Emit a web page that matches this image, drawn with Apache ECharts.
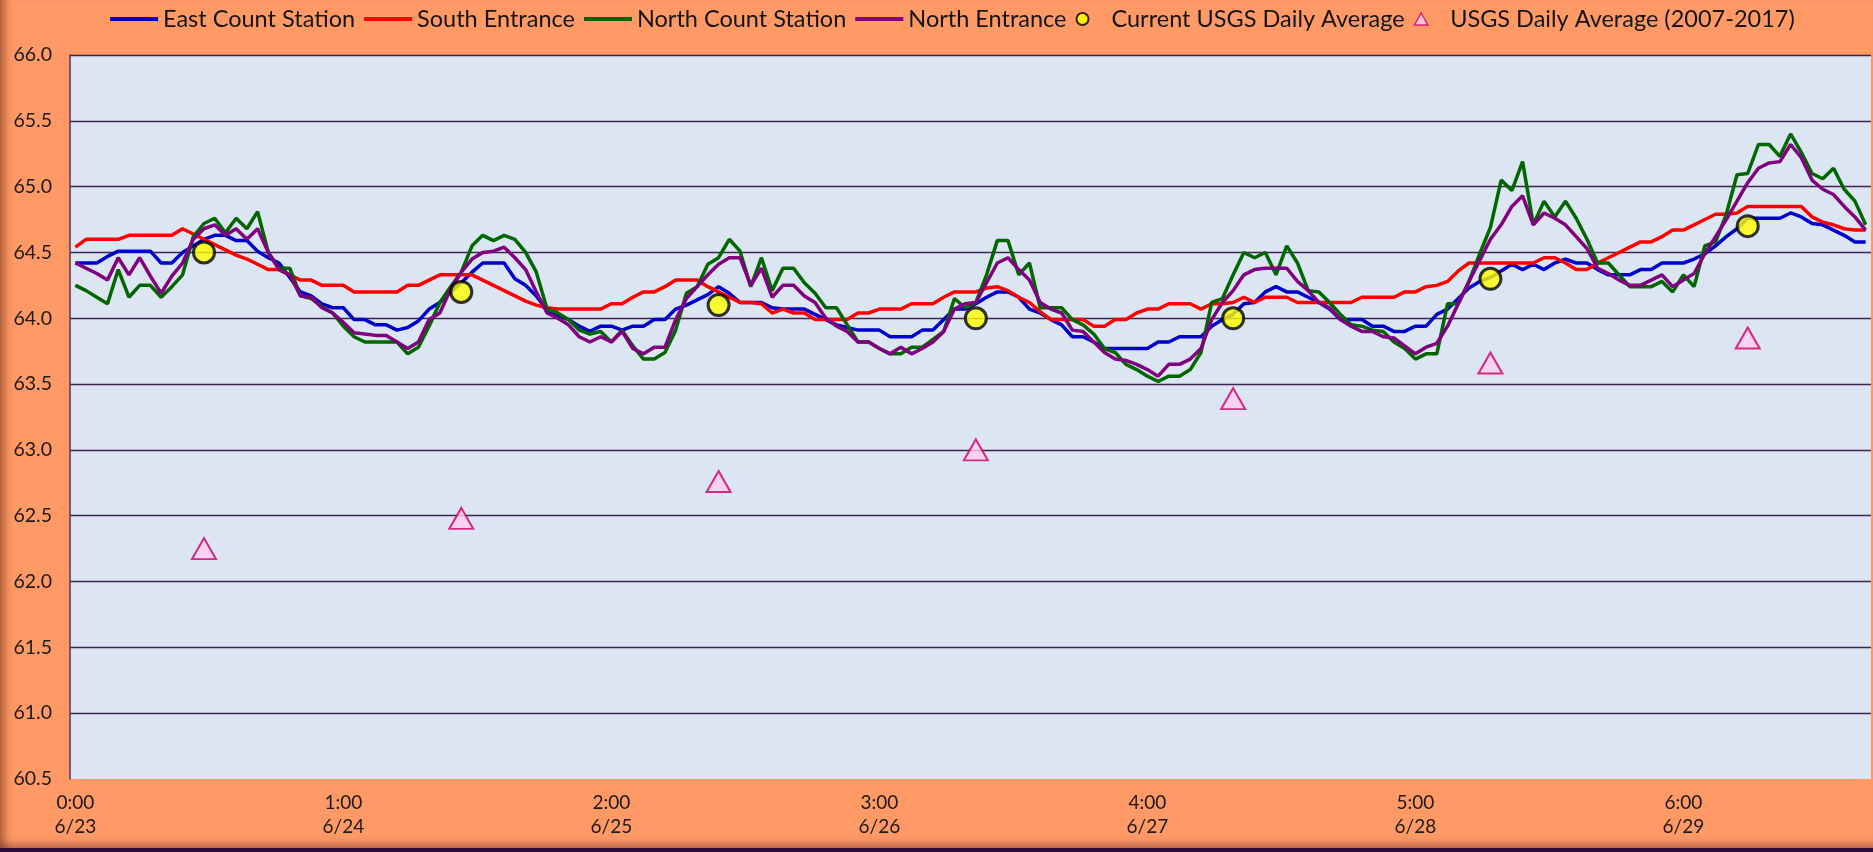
<!DOCTYPE html>
<html>
<head>
<meta charset="utf-8">
<title>Water temperature by station</title>
<script src="https://cdn.jsdelivr.net/npm/echarts@6/dist/echarts.min.js"></script>
<style>
  html, body { margin: 0; padding: 0; }
  #wrap {
    position: relative;
    width: 1873px;
    height: 852px;
    background: #ff9966;
    box-shadow: inset 12px 0 10px -8px rgba(90, 35, 10, 0.55),
                inset 0 -14px 10px -8px rgba(70, 20, 40, 0.55);
  }
  #wrap::after {
    content: '';
    position: absolute;
    left: 0; right: 0; bottom: 0;
    height: 4px;
    background: #2c0b3a;
  }
  #chart { position: absolute; left: 0; top: 0; width: 1873px; height: 852px; }
</style>
</head>
<body>
<div id="wrap"><div id="chart"></div></div>
<script>
// days shown, one reading per hour
const days = ['6/23', '6/24', '6/25', '6/26', '6/27', '6/28', '6/29']

// hourly temperatures
const eastCount = [
  64.42, 64.42, 64.42, 64.47, 64.51, 64.51, 64.51, 64.51, 64.42, 64.42,
  64.50, 64.55, 64.60, 64.63, 64.63, 64.59, 64.59, 64.51, 64.46, 64.42,
  64.31, 64.20, 64.17, 64.11, 64.08, 64.08, 63.99, 63.99, 63.95, 63.95,
  63.91, 63.93, 63.98, 64.07, 64.12, 64.20, 64.27, 64.35, 64.42, 64.42,
  64.42, 64.30, 64.25, 64.17, 64.06, 64.02, 63.99, 63.94, 63.90, 63.94,
  63.94, 63.91, 63.94, 63.94, 63.99, 63.99, 64.07, 64.10, 64.14, 64.18,
  64.24, 64.19, 64.12, 64.12, 64.12, 64.08, 64.07, 64.07, 64.07, 64.03,
  63.99, 63.95, 63.93, 63.91, 63.91, 63.91, 63.86, 63.86, 63.86, 63.91,
  63.91, 63.99, 64.07, 64.07, 64.11, 64.16, 64.20, 64.20, 64.16, 64.07,
  64.04, 63.99, 63.95, 63.86, 63.86, 63.82, 63.77, 63.77, 63.77, 63.77,
  63.77, 63.82, 63.82, 63.86, 63.86, 63.86, 63.94, 63.99, 64.03, 64.11,
  64.12, 64.20, 64.24, 64.20, 64.20, 64.16, 64.12, 64.07, 63.99, 63.99,
  63.99, 63.94, 63.94, 63.90, 63.90, 63.94, 63.94, 64.03, 64.07, 64.15,
  64.23, 64.28, 64.31, 64.36, 64.41, 64.37, 64.41, 64.37, 64.42, 64.45,
  64.42, 64.42, 64.37, 64.33, 64.33, 64.33, 64.37, 64.37, 64.42, 64.42,
  64.42, 64.45, 64.49, 64.55, 64.62, 64.68, 64.76, 64.76, 64.76, 64.76,
  64.80, 64.77, 64.72, 64.71, 64.67, 64.63, 64.58, 64.58
]

const southEntrance = [
  64.54, 64.60, 64.60, 64.60, 64.60, 64.63, 64.63, 64.63, 64.63, 64.63,
  64.68, 64.64, 64.60, 64.56, 64.52, 64.48, 64.45, 64.41, 64.37, 64.37,
  64.33, 64.29, 64.29, 64.25, 64.25, 64.25, 64.20, 64.20, 64.20, 64.20,
  64.20, 64.25, 64.25, 64.29, 64.33, 64.33, 64.33, 64.33, 64.29, 64.25,
  64.21, 64.17, 64.13, 64.10, 64.08, 64.07, 64.07, 64.07, 64.07, 64.07,
  64.11, 64.11, 64.16, 64.20, 64.20, 64.24, 64.29, 64.29, 64.29, 64.24,
  64.20, 64.16, 64.12, 64.12, 64.11, 64.04, 64.07, 64.04, 64.04, 63.99,
  63.99, 63.99, 63.99, 64.04, 64.04, 64.07, 64.07, 64.07, 64.11, 64.11,
  64.11, 64.16, 64.20, 64.20, 64.20, 64.23, 64.24, 64.21, 64.16, 64.12,
  64.05, 63.99, 63.99, 63.99, 63.99, 63.94, 63.94, 63.99, 63.99, 64.04,
  64.07, 64.07, 64.11, 64.11, 64.11, 64.07, 64.11, 64.11, 64.12, 64.16,
  64.12, 64.16, 64.16, 64.16, 64.12, 64.12, 64.12, 64.12, 64.12, 64.12,
  64.16, 64.16, 64.16, 64.16, 64.20, 64.20, 64.24, 64.25, 64.28, 64.36,
  64.42, 64.42, 64.42, 64.42, 64.42, 64.42, 64.42, 64.46, 64.46, 64.42,
  64.37, 64.37, 64.42, 64.46, 64.50, 64.54, 64.58, 64.58, 64.62, 64.67,
  64.67, 64.71, 64.75, 64.79, 64.79, 64.80, 64.85, 64.85, 64.85, 64.85,
  64.85, 64.85, 64.77, 64.73, 64.71, 64.68, 64.67, 64.67
]

const northCount = [
  64.25, 64.21, 64.16, 64.11, 64.37, 64.16, 64.25, 64.25, 64.16, 64.24,
  64.33, 64.62, 64.72, 64.76, 64.65, 64.76, 64.68, 64.81, 64.50, 64.38,
  64.38, 64.17, 64.15, 64.09, 64.04, 63.94, 63.86, 63.82, 63.82, 63.82,
  63.82, 63.73, 63.78, 63.94, 64.12, 64.24, 64.35, 64.55, 64.63, 64.59,
  64.63, 64.60, 64.50, 64.35, 64.07, 64.04, 63.99, 63.91, 63.88, 63.90,
  63.82, 63.91, 63.79, 63.69, 63.69, 63.74, 63.91, 64.19, 64.24, 64.41,
  64.46, 64.60, 64.51, 64.24, 64.46, 64.21, 64.38, 64.38, 64.27, 64.19,
  64.08, 64.08, 63.95, 63.82, 63.82, 63.77, 63.73, 63.73, 63.78, 63.78,
  63.84, 63.90, 64.15, 64.08, 64.12, 64.33, 64.59, 64.59, 64.33, 64.42,
  64.08, 64.08, 64.08, 63.99, 63.95, 63.88, 63.77, 63.74, 63.65, 63.61,
  63.56, 63.52, 63.56, 63.56, 63.61, 63.74, 64.12, 64.15, 64.33, 64.50,
  64.46, 64.50, 64.33, 64.55, 64.42, 64.21, 64.20, 64.12, 64.03, 63.95,
  63.94, 63.91, 63.90, 63.82, 63.77, 63.69, 63.73, 63.73, 64.11, 64.11,
  64.28, 64.49, 64.69, 65.05, 64.97, 65.19, 64.71, 64.89, 64.77, 64.89,
  64.76, 64.60, 64.42, 64.42, 64.33, 64.24, 64.24, 64.24, 64.28, 64.20,
  64.33, 64.24, 64.55, 64.58, 64.79, 65.09, 65.10, 65.32, 65.32, 65.23,
  65.40, 65.26, 65.10, 65.06, 65.14, 64.98, 64.89, 64.71
]

const northEntrance = [
  64.42, 64.38, 64.34, 64.29, 64.46, 64.33, 64.46, 64.32, 64.19, 64.32,
  64.42, 64.60, 64.68, 64.71, 64.63, 64.68, 64.60, 64.68, 64.50, 64.37,
  64.33, 64.17, 64.16, 64.08, 64.04, 63.97, 63.89, 63.88, 63.87, 63.87,
  63.82, 63.77, 63.82, 63.99, 64.04, 64.22, 64.35, 64.45, 64.50, 64.51,
  64.54, 64.46, 64.37, 64.20, 64.04, 64.00, 63.95, 63.86, 63.82, 63.86,
  63.82, 63.90, 63.77, 63.73, 63.78, 63.78, 63.99, 64.15, 64.24, 64.33,
  64.41, 64.46, 64.46, 64.25, 64.38, 64.16, 64.25, 64.25, 64.17, 64.12,
  64.00, 63.94, 63.90, 63.82, 63.82, 63.77, 63.73, 63.78, 63.73, 63.77,
  63.82, 63.90, 64.07, 64.11, 64.12, 64.27, 64.42, 64.46, 64.37, 64.29,
  64.12, 64.07, 64.04, 63.91, 63.90, 63.82, 63.74, 63.69, 63.68, 63.65,
  63.61, 63.56, 63.65, 63.65, 63.69, 63.77, 63.99, 64.12, 64.21, 64.33,
  64.37, 64.38, 64.38, 64.38, 64.28, 64.21, 64.12, 64.08, 63.99, 63.94,
  63.90, 63.90, 63.86, 63.85, 63.79, 63.73, 63.78, 63.81, 63.94, 64.11,
  64.28, 64.44, 64.60, 64.71, 64.85, 64.93, 64.71, 64.80, 64.76, 64.71,
  64.62, 64.53, 64.38, 64.34, 64.29, 64.25, 64.25, 64.29, 64.33, 64.24,
  64.29, 64.34, 64.49, 64.62, 64.75, 64.89, 65.03, 65.14, 65.18, 65.19,
  65.32, 65.22, 65.05, 64.98, 64.94, 64.85, 64.77, 64.67
]

// daily averages, plotted at noon of each day
const usgsTimes = ['6/23 12:00', '6/24 12:00', '6/25 12:00', '6/26 12:00', '6/27 12:00', '6/28 12:00', '6/29 12:00']
const usgsCurrent = [64.5, 64.2, 64.1, 64.0, 64.0, 64.3, 64.7]
const usgsHistoric = [62.25, 62.48, 62.76, 63.0, 63.39, 63.66, 63.85]

// one category per hour: "6/23 0:00" ... "6/29 23:00"
const hours = []
days.forEach(d => {
  for (let h = 0; h < 24; h++) hours.push(d + ' ' + h + ':00')
})

const font = 'Lato, "Open Sans", sans-serif'
const gridColor = '#3f2350'
// plain bar for the line entries of the legend (no dot in the middle)
const lineIcon = 'path://M0,0L48,0L48,4L0,4Z'

const lineSeries = (name, data, color) => ({
  name,
  type: 'line',
  data,
  symbol: 'none',
  lineStyle: { color, width: 3.5 },
  itemStyle: { color },
  z: 2
})

const chart = echarts.init(document.getElementById('chart'))

chart.setOption({
  animation: false,
  backgroundColor: 'transparent',
  legend: {
    left: 105,
    top: 2,
    itemWidth: 48,
    itemHeight: 12,
    itemGap: 9,
    textStyle: { fontFamily: font, fontSize: 23.5, color: '#141414' },
    data: [
      { name: 'East Count Station', icon: lineIcon },
      { name: 'South Entrance', icon: lineIcon },
      { name: 'North Count Station', icon: lineIcon },
      { name: 'North Entrance', icon: lineIcon },
      { name: 'Current USGS Daily Average', icon: 'circle', itemStyle: { borderWidth: 2 } },
      { name: 'USGS Daily Average (2007-2017)', icon: 'path://M5,0L10,9L0,9Z', itemStyle: { borderWidth: 1.5 } }
    ]
  },
  grid: {
    left: 70,
    right: 2,
    top: 55,
    bottom: 73,
    show: true,
    backgroundColor: '#dce6f2',
    borderWidth: 0
  },
  xAxis: {
    type: 'category',
    data: hours,
    boundaryGap: true,
    axisLine: { show: false },
    axisTick: { show: false },
    splitLine: { show: false },
    axisLabel: {
      interval: 24,
      margin: 12,
      fontFamily: font,
      fontSize: 19,
      lineHeight: 24,
      color: '#1a1a1a',
      formatter: v => {
        const [d, t] = v.split(' ')
        return t + '\n' + d
      }
    }
  },
  yAxis: {
    type: 'value',
    min: 60.5,
    max: 66,
    interval: 0.5,
    axisLine: { show: true, lineStyle: { color: '#5a3050', width: 1.5 } },
    axisTick: { show: false },
    splitLine: {
      lineStyle: {
        color: ['rgba(0,0,0,0)'].concat(Array(11).fill(gridColor)),
        width: 1.3
      }
    },
    axisLabel: {
      margin: 18,
      fontFamily: font,
      fontSize: 19.5,
      color: '#1a1a1a',
      formatter: v => v.toFixed(1)
    }
  },
  series: [
    lineSeries('East Count Station', eastCount, '#0000cc'),
    lineSeries('South Entrance', southEntrance, '#ff0000'),
    lineSeries('North Count Station', northCount, '#006600'),
    lineSeries('North Entrance', northEntrance, '#800080'),
    {
      name: 'Current USGS Daily Average',
      type: 'scatter',
      data: usgsTimes.map((t, i) => [t, usgsCurrent[i]]),
      symbol: 'circle',
      symbolSize: 21,
      itemStyle: { color: '#ffff00', borderColor: '#000000', borderWidth: 3 },
      z: 4
    },
    {
      name: 'USGS Daily Average (2007-2017)',
      type: 'scatter',
      data: usgsTimes.map((t, i) => [t, usgsHistoric[i]]),
      symbol: 'triangle',
      symbolSize: [24, 21],
      itemStyle: { color: '#ffccf2', borderColor: '#cc0066', borderWidth: 2 },
      z: 4
    }
  ]
})
</script>
</body>
</html>
